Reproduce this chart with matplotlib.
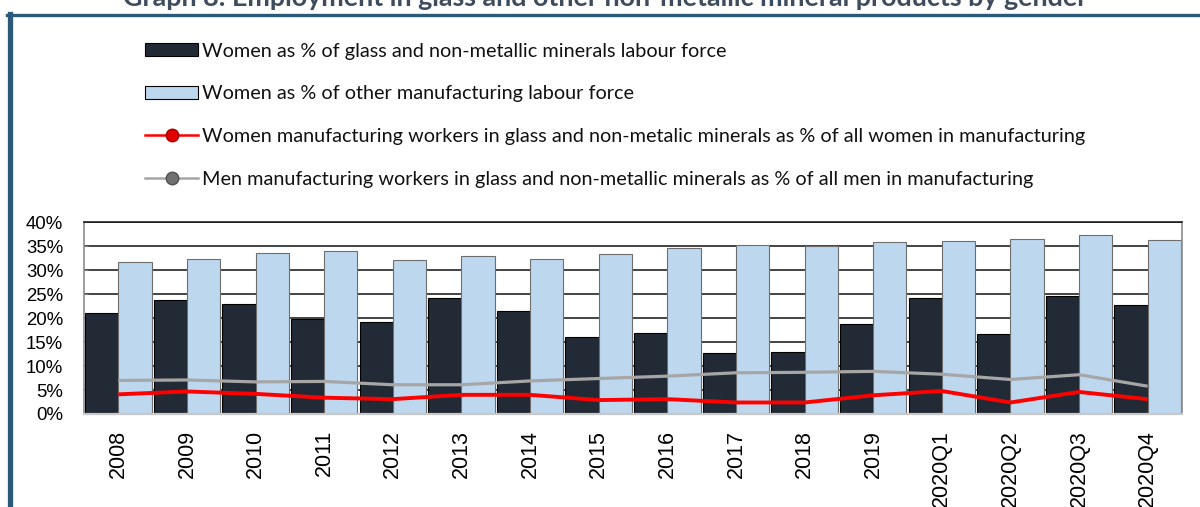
import matplotlib
matplotlib.use("Agg")
import matplotlib.pyplot as plt
import numpy as np
from matplotlib.lines import Line2D
from matplotlib.patches import Patch

# ---- data ----
categories = ["2008", "2009", "2010", "2011", "2012", "2013", "2014", "2015",
              "2016", "2017", "2018", "2019", "2020Q1", "2020Q2", "2020Q3", "2020Q4"]
women_glass_share = [21.1, 23.8, 22.9, 19.9, 19.2, 24.2, 21.4, 16.0,
                     16.9, 12.7, 12.9, 18.8, 24.3, 16.6, 24.7, 22.7]
women_other_share = [31.8, 32.4, 33.5, 34.1, 32.2, 33.0, 32.4, 33.3,
                     34.6, 35.3, 35.1, 35.8, 36.0, 36.6, 37.4, 36.3]
women_glass_of_women = [4.1, 4.7, 4.2, 3.4, 3.1, 4.0, 4.0, 2.9,
                        3.1, 2.4, 2.4, 3.9, 4.8, 2.4, 4.6, 3.1]
men_glass_of_men = [7.0, 7.1, 6.7, 6.8, 6.1, 6.1, 6.9, 7.4,
                    7.9, 8.6, 8.7, 8.9, 8.3, 7.2, 8.2, 5.8]
y_ticks = [0, 5, 10, 15, 20, 25, 30, 35, 40]

labels = [
    "Women as % of glass and non-metallic minerals labour force",
    "Women as % of other manufacturing labour force",
    "Women manufacturing workers in glass and non-metalic minerals as % of all women in manufacturing",
    "Men manufacturing workers in glass and non-metallic minerals as % of all men in manufacturing",
]
title = "Graph 8: Employment in glass and other non-metallic mineral products by gender"

W, H = 1200, 507
DPI = 100
fig = plt.figure(figsize=(W / DPI, H / DPI), dpi=DPI)
fig.patch.set_facecolor("white")
renderer = fig.canvas.get_renderer()

def fx(px):
    return px / W

def fy(py):
    return 1 - py / H

def fit_size(text, family, weight, target_px, base=14.0):
    t = fig.text(0, 0, text, fontsize=base, family=family, fontweight=weight)
    w = t.get_window_extent(renderer).width
    t.remove()
    return base * target_px / w

ax = fig.add_axes([fx(84), fy(414), fx(1182) - fx(84), fy(222.3) - fy(414)])

DARK = "#222a35"
LIGHT = "#bdd7ee"
RED = "#ff0000"
GRAY = "#a6a6a6"

x = np.arange(len(categories))
bw = 0.485
ax.bar(x - bw / 2, women_glass_share, width=bw, color=DARK, edgecolor="#000000",
       linewidth=0.8, zorder=2)
ax.bar(x + bw / 2, women_other_share, width=bw, color=LIGHT, edgecolor="#6e6e6e",
       linewidth=0.8, zorder=2)
ax.plot(x, men_glass_of_men, color=GRAY, linewidth=2.3, zorder=3, solid_capstyle="butt")
ax.plot(x, women_glass_of_women, color=RED, linewidth=2.8, zorder=4, solid_capstyle="butt")

ax.set_xlim(-0.5, len(categories) - 0.5)
ax.set_ylim(0, 40)
ax.set_yticks(y_ticks)
ax.set_yticklabels([f"{v}%" for v in y_ticks], fontsize=13.4, family="Liberation Sans")
ax.set_xticks(x)
ax.set_xticklabels(categories, rotation=90, fontsize=15.5, family="Liberation Sans",
                   va="top", ha="center")
ax.tick_params(axis="y", length=3, direction="in", color="#808080", pad=15, left=True)
ax.tick_params(axis="x", length=0, pad=11.5)
ax.yaxis.grid(True, color="#111111", linewidth=1.1, zorder=0)
ax.set_axisbelow(True)

for side, col, lw in [("left", "#8c8c8c", 1.2), ("right", "#8c8c8c", 1.2),
                      ("bottom", "#c8c8c8", 1.6), ("top", "#111111", 1.1)]:
    ax.spines[side].set_color(col)
    ax.spines[side].set_linewidth(lw)

# ---- legend ----
leg_fs = fit_size(labels[2], "Lato", "normal", 885)
fs_px = leg_fs * DPI / 72
handles = [
    Patch(facecolor=DARK, edgecolor="#000000", linewidth=0.8),
    Patch(facecolor=LIGHT, edgecolor="#000000", linewidth=0.8),
    Line2D([], [], color=RED, linewidth=1.8, marker="o", markersize=9,
           markerfacecolor="#e00000", markeredgecolor="#a00000"),
    Line2D([], [], color=GRAY, linewidth=1.8, marker="o", markersize=9,
           markerfacecolor="#707070", markeredgecolor="#505050"),
]
leg = fig.legend(handles, labels, loc="upper left",
                 bbox_to_anchor=(fx(145), fy(42.5)), frameon=False,
                 prop={"family": "Lato", "size": leg_fs},
                 handlelength=53 / fs_px, handleheight=13 / fs_px,
                 handletextpad=4 / fs_px, labelspacing=1.30,
                 borderpad=0, borderaxespad=0)
for t in leg.get_texts():
    t.set_color("#111111")

# ---- title (cropped at top like the reference) ----
title_fs = fit_size(title, "Lato", "bold", 976)
fig.text(fx(605), fy(6), title, ha="center", va="baseline", fontsize=title_fs,
         fontweight="bold", family="Lato", color="#3e4d5e")

# ---- frame ----
frame_col = "#2a5a77"
fig.add_artist(Line2D([fx(7), fx(1200)], [fy(15.3), fy(15.3)], color=frame_col,
                      linewidth=2.4, transform=fig.transFigure))
fig.add_artist(Line2D([fx(10), fx(10)], [fy(14), fy(507)], color=frame_col,
                      linewidth=3.8, transform=fig.transFigure))

fig.savefig("out.png", dpi=DPI)
